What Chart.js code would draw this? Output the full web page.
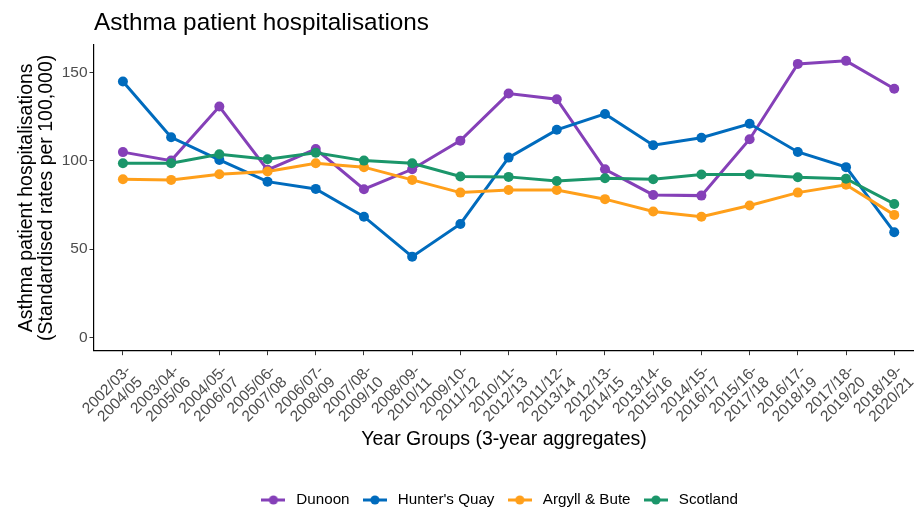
<!DOCTYPE html>
<html>
<head>
<meta charset="utf-8">
<script src="https://cdn.jsdelivr.net/npm/chart.js@4.4.1/dist/chart.umd.min.js"></script>
<style>
  html, body { margin: 0; padding: 0; background: #ffffff; }
  #wrap { width: 914px; height: 508px; position: relative; }
</style>
</head>
<body>
<div id="wrap"><canvas id="c" width="914" height="508"></canvas></div>
<script>
// ---- data ----
const categories = [
  ["2002/03-", "2004/05"], ["2003/04-", "2005/06"], ["2004/05-", "2006/07"], ["2005/06-", "2007/08"],
  ["2006/07-", "2008/09"], ["2007/08-", "2009/10"], ["2008/09-", "2010/11"], ["2009/10-", "2011/12"],
  ["2010/11-", "2012/13"], ["2011/12-", "2013/14"], ["2012/13-", "2014/15"], ["2013/14-", "2015/16"],
  ["2014/15-", "2016/17"], ["2015/16-", "2017/18"], ["2016/17-", "2018/19"], ["2017/18-", "2019/20"],
  ["2018/19-", "2020/21"]
];
const seriesNames = ["Dunoon", "Hunter's Quay", "Argyll & Bute", "Scotland"];
const dunoon      = [104.9, 100.1, 130.7, 94.9, 106.6, 83.9, 95.2, 111.4, 138.0, 134.8, 95.2, 80.7, 80.3, 112.2, 154.8, 156.5, 140.7];
const huntersQuay = [144.8, 113.3, 100.5, 88.2, 84.1, 68.4, 45.8, 64.3, 101.8, 117.5, 126.5, 108.8, 113.0, 120.9, 105.0, 96.4, 59.6];
const argyllBute  = [89.6, 89.2, 92.4, 93.9, 98.6, 96.4, 89.2, 82.0, 83.5, 83.5, 78.3, 71.3, 68.4, 74.7, 82.0, 86.4, 69.4];
const scotland    = [98.6, 98.6, 103.7, 100.9, 104.6, 100.1, 98.6, 91.1, 90.9, 88.6, 90.1, 89.6, 92.2, 92.2, 90.7, 89.9, 75.6];
const yTicks = [0, 50, 100, 150];

const colors = ["#8540B8", "#006BBD", "#FF9F1A", "#1B966A"];
const seriesValues = [dunoon, huntersQuay, argyllBute, scotland];

const FONT = "'Liberation Sans', Arial, Helvetica, sans-serif";

function legendGlyph(color) {
  const c = document.createElement('canvas');
  c.width = 24; c.height = 12;
  const g = c.getContext('2d');
  g.strokeStyle = color; g.lineWidth = 3;
  g.beginPath(); g.moveTo(0, 6); g.lineTo(24, 6); g.stroke();
  g.fillStyle = color;
  g.beginPath(); g.arc(12, 6, 4.6, 0, Math.PI * 2); g.fill();
  return c;
}

const datasets = seriesNames.map((name, k) => ({
  label: name,
  data: seriesValues[k].map((v, i) => ({ x: i, y: v })),
  borderColor: colors[k],
  backgroundColor: colors[k],
  borderWidth: 3,
  pointRadius: 5,
  pointHoverRadius: 5,
  pointBorderWidth: 0,
  tension: 0,
  order: seriesNames.length - k
}));

const shiftLegend = {
  id: 'shiftLegend',
  afterLayout(chart) {
    const lg = chart.legend;
    if (lg) { lg.top += 9.6; lg.bottom += 9.6; lg.left += 41; lg.right += 41; }
  }
};

function noEdgePadding(scale) {
  scale._calculatePadding = function () {
    this.paddingLeft = 0; this.paddingRight = 0; this.paddingTop = 0; this.paddingBottom = 0;
  };
}

new Chart(document.getElementById('c'), {
  type: 'line',
  data: { datasets },
  plugins: [shiftLegend],
  options: {
    responsive: false,
    animation: false,
    layout: { autoPadding: false, padding: { left: 0, right: 0, top: 0, bottom: 0 } },
    plugins: {
      tooltip: { enabled: false },
      title: {
        display: true,
        text: 'Asthma patient hospitalisations',
        align: 'start',
        fullSize: false,
        color: '#000000',
        font: { family: FONT, size: 24.3, weight: 'normal', lineHeight: 1.2 },
        padding: { top: 8.5, bottom: 7.3 }
      },
      legend: {
        display: true,
        position: 'bottom',
        align: 'center',
        labels: {
          usePointStyle: true,
          pointStyleWidth: 30.7,
          padding: 10,
          color: '#000000',
          font: { family: FONT, size: 15.2 },
          generateLabels: (chart) => seriesNames.map((n, k) => ({
            text: n,
            fillStyle: colors[k],
            strokeStyle: colors[k],
            lineWidth: 0,
            pointStyle: legendGlyph(colors[k]),
            datasetIndex: k,
            hidden: false
          }))
        }
      }
    },
    scales: {
      x: {
        type: 'linear',
        min: -0.6,
        max: 16.41,
        beforeUpdate: noEdgePadding,
        afterBuildTicks: (scale) => { scale.ticks = categories.map((_, i) => ({ value: i })); },
        afterFit: (scale) => { scale.height = 122.1; },
        ticks: {
          autoSkip: false,
          maxRotation: 45,
          minRotation: 45,
          padding: 7.3,
          labelOffset: 5.6,
          color: '#4D4D4D',
          font: { family: FONT, size: 15.5, lineHeight: 1.05 },
          callback: (v) => categories[v]
        },
        grid: { display: true, drawOnChartArea: false, drawTicks: true, tickLength: 4.5, color: '#333333', lineWidth: 1 },
        border: { display: true, color: '#000000', width: 1.2 },
        title: {
          display: true,
          text: 'Year Groups (3-year aggregates)',
          color: '#000000',
          font: { family: FONT, size: 19.5, lineHeight: 1.2 },
          padding: { top: 4, bottom: 21.1 }
        }
      },
      y: {
        type: 'linear',
        min: -7.4,
        max: 165.5,
        afterBuildTicks: (scale) => { scale.ticks = yTicks.map(v => ({ value: v })); },
        afterFit: (scale) => { scale.width = 94; },
        ticks: {
          padding: 2,
          color: '#4D4D4D',
          font: { family: FONT, size: 15.5 }
        },
        grid: { display: true, drawOnChartArea: false, drawTicks: true, tickLength: 4.5, color: '#333333', lineWidth: 1 },
        border: { display: true, color: '#000000', width: 1.2 },
        title: {
          display: true,
          text: ['Asthma patient hospitalisations', '(Standardised rates per 100,000)'],
          color: '#000000',
          font: { family: FONT, size: 19.5, lineHeight: 1.02 },
          padding: { top: 17, bottom: 0 }
        }
      }
    }
  }
});
</script>
</body>
</html>
